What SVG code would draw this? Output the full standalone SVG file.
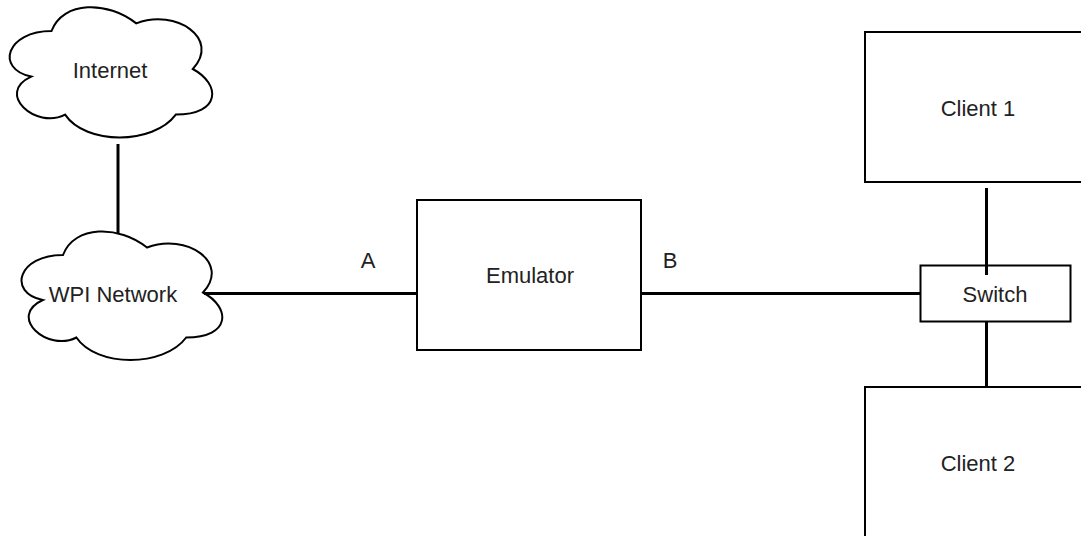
<svg xmlns="http://www.w3.org/2000/svg" width="1081" height="536" viewBox="0 0 1081 536">
  <style>
    .shape { fill: #ffffff; stroke: #000000; stroke-width: 2; }
    .conn { fill: none; stroke: #000000; stroke-width: 3; }
    .label { font-family: "Liberation Sans", Arial, sans-serif; font-size: 22px; fill: #222222; text-anchor: middle; }
  </style>
  <rect width="1081" height="536" fill="#ffffff"/>
  <g id="internet">
    <path class="shape" d="M 51.5 31 C 6.3 31 -5 69 31.2 76.6 C -5 93.3 35.7 129.8 65.1 114.6 C 85.4 145 153.2 145 175.8 114.6 C 221 114.6 221 84.2 192.8 69 C 221 38.6 175.8 8.2 136.3 23.4 C 108 0.6 62.8 0.6 51.5 31 Z"/>
    <text class="label" x="110" y="78">Internet</text>
  </g>
  <g id="wpi-network">
    <path class="shape" d="M 63 255 C 18.2 255 7 292.5 42.8 300 C 7 316.5 47.3 352.5 76.4 337.5 C 96.6 367.5 163.8 367.5 186.2 337.5 C 231 337.5 231 307.5 203 292.5 C 231 262.5 186.2 232.5 147 247.5 C 119 225 74.2 225 63 255 Z"/>
    <text class="label" x="113" y="302">WPI Network</text>
  </g>
  <g id="emulator">
    <rect class="shape" x="417" y="200" width="224" height="150"/>
    <text class="label" x="530" y="283">Emulator</text>
  </g>
  <g id="switch">
    <rect class="shape" x="920.5" y="265.5" width="150" height="56"/>
    <text class="label" x="995" y="302">Switch</text>
  </g>
  <g id="client1">
    <rect class="shape" x="865" y="32" width="230" height="150"/>
    <text class="label" x="978" y="116">Client 1</text>
  </g>
  <g id="client2">
    <rect class="shape" x="865" y="387" width="230" height="150"/>
    <text class="label" x="978" y="471">Client 2</text>
  </g>
  <g id="connectors">
    <line class="conn" x1="118" y1="144" x2="118" y2="233"/>
    <line class="conn" x1="204" y1="293.5" x2="417" y2="293.5"/>
    <line class="conn" x1="641" y1="293.5" x2="920" y2="293.5"/>
    <line class="conn" x1="986.5" y1="188" x2="986.5" y2="275"/>
    <line class="conn" x1="986.5" y1="322" x2="986.5" y2="387"/>
    <text class="label" x="368" y="268">A</text>
    <text class="label" x="670" y="268">B</text>
  </g>
</svg>
